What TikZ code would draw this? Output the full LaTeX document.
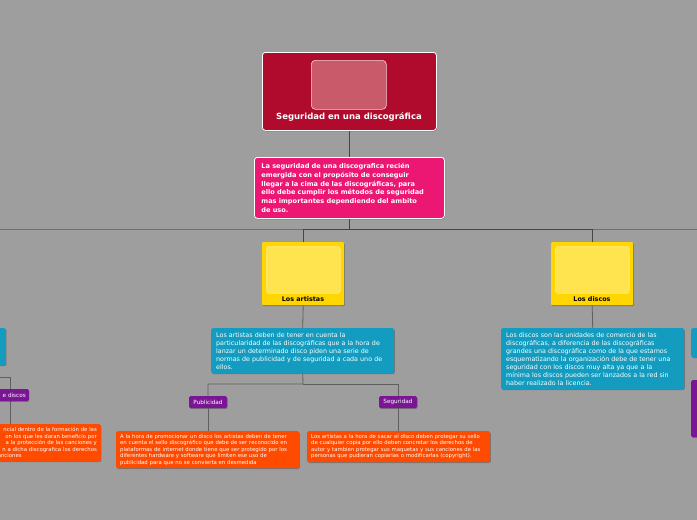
\documentclass[tikz,border=0pt]{standalone}
\usepackage{fontspec}
\setmainfont{DejaVu Sans}
\usetikzlibrary{shadows}
\definecolor{bgc}{RGB}{158,158,158}
\definecolor{rootc}{RGB}{176,11,44}
\definecolor{rootin}{RGB}{200,90,106}
\definecolor{pinkc}{RGB}{236,23,115}
\definecolor{yelc}{RGB}{255,214,0}
\definecolor{yelin}{RGB}{255,227,79}
\definecolor{bluec}{RGB}{19,156,191}
\definecolor{purc}{RGB}{122,21,148}
\definecolor{orac}{RGB}{255,75,0}
\definecolor{linec}{RGB}{70,70,70}
\definecolor{linel}{RGB}{95,95,95}
\tikzset{
  shad/.style={general shadow={fill=black, opacity=0.25, shadow xshift=0.6pt, shadow yshift=-0.9pt}},
  rootbox/.style={shad, fill=rootc, draw=white, line width=0.8pt, rounded corners=3pt, minimum width=174pt, minimum height=78pt, anchor=north west, inner sep=0pt},
  rootimg/.style={fill=rootin, draw=white!75!rootin, line width=0.6pt, rounded corners=4pt, minimum width=75pt, minimum height=49pt, anchor=north west, inner sep=0pt},
  pinkbox/.style={shad, fill=pinkc, draw=white, line width=0.8pt, rounded corners=3pt, anchor=north west, inner xsep=7pt, inner ysep=0pt, text=white, align=left, font=\bfseries\fontsize{6.6}{8.8}\selectfont},
  yelbox/.style={shad, fill=yelc, rounded corners=1pt, minimum width=82pt, minimum height=63pt, anchor=north west, inner sep=0pt},
  yelimg/.style={fill=yelin, draw=white!30!yelin, line width=0.6pt, rounded corners=3pt, minimum width=74pt, minimum height=47pt, anchor=north west, inner sep=0pt},
  yellab/.style={font=\bfseries\fontsize{6.4}{7}\selectfont, text=black, inner sep=0pt},
  bluebox/.style={shad, fill=bluec, rounded corners=1.5pt, anchor=north west, inner xsep=5pt, inner ysep=0pt, text=white, align=left, font=\fontsize{6.35}{8}\selectfont},
  purbox/.style={shad, fill=purc, rounded corners=1.5pt, minimum width=38pt, minimum height=12pt, inner sep=0pt, text=white, font=\fontsize{5.7}{6}\selectfont},
  orabox/.style={shad, fill=orac, rounded corners=1.5pt, anchor=north west, inner xsep=4pt, inner ysep=0pt, text=white, align=left, font=\fontsize{5.35}{6.5}\selectfont},
  mainline/.style={draw=linec, line width=1.2pt},
  subline/.style={draw=linel, line width=0.8pt},
  farline/.style={draw=linel!90!white, line width=0.8pt},
}
\begin{document}
\begin{tikzpicture}[x=1pt,y=-1pt]
\useasboundingbox (0,0) rectangle (697,520);
\fill[bgc] (0,0) rectangle (697,520);
\clip (0,0) rectangle (697,520);

% coordinates of the long horizontal line
\coordinate (hl) at (0,229);
\coordinate (hr) at (697,229);
\draw[farline] (hl) -- (hr);

% root
\node[rootbox] (root) at (262,52) {};
\node[rootimg] (rootpic) at (311,60) {};
\node[font=\bfseries\fontsize{8.5}{9}\selectfont, text=white, inner sep=0pt] (roottitle) at (349,117) {Seguridad en una discográfica};

% pink
\node[pinkbox, minimum width=190pt, minimum height=61pt, text width=176pt] (pink) at (254,157) {La seguridad de una discografica recién\\emergida con el propósito de conseguir\\llegar a la cima de las discográficas, para\\ello debe cumplir los métodos de seguridad\\mas importantes dependiendo del ambito\\de uso.};

\draw[mainline] (root.south) -- (pink.north);
\draw[mainline] (pink.south) -- (pink.south |- hl);

% yellow boxes
\node[yelbox] (artistas) at (262,242) {};
\node[yelimg] (artistaspic) at (266,246) {};
\node[yellab] (artistaslab) at (303,299) {Los artistas};
\node[yelbox] (discos) at (551,242) {};
\node[yelimg] (discospic) at (555,246) {};
\node[yellab] (discoslab) at (592,299) {Los discos};

\draw[mainline, line width=0.9pt] (artistas.north) -- (artistas.north |- hl) -- (discos.north |- hl) -- (discos.north);

% blue boxes
\node[bluebox, minimum width=183pt, minimum height=45pt, text width=173pt] (bart) at (211,328) {Los artistas deben de tener en cuenta la\\particularidad de las discográficas que a la hora de\\lanzar un determinado disco piden una serie de\\normas de publicidad y de seguridad a cada uno de\\ellos.};
\node[bluebox, minimum width=183pt, minimum height=61pt, text width=173pt] (bdis) at (501,328) {Los discos son las unidades de comercio de las\\discográficas, a diferencia de las discográficas\\grandes una discográfica como de la que estamos\\esquematizando la organización debe de tener una\\seguridad con los discos muy alta ya que a la\\mínima los discos pueden ser lanzados a la red sin\\haber realizado la licencia.};

\draw[subline] (artistas.south) -- (bart.north);
\draw[subline] (discos.south) -- (bdis.north);

% purple
\node[purbox] (publ) at (208,402) {Publicidad};
\node[purbox] (segu) at (398,402) {Seguridad};
\coordinate (bsplit) at (303,384);
\draw[subline] (bart.south) -- (bsplit) -- (bsplit -| publ.north) -- (publ.north);
\draw[subline] (bsplit) -- (bsplit -| segu.north) -- (segu.north);

% orange
\node[orabox, minimum width=183pt, minimum height=37pt, text width=175pt] (opub) at (116,431) {A la hora de promocionar un disco los artistas deben de tener\\en cuenta el sello discográfico que debe de ser reconocido en\\plataformas de internet donde tiene que ser protegido por los\\diferentes hardware y software que limiten ese uso de\\publicidad para que no se convierta en desmedida};
\node[orabox, minimum width=183pt, minimum height=31pt, text width=175pt] (oseg) at (307,431) {Los artistas a la hora de sacar el disco deben protegar su sello\\de cualquier copia por ello deben concretar los derechos de\\autor y tambien protegar sus maquetas y sus canciones de las\\personas que pudieran copiarlas o modificarlas (copyright).};
\draw[subline] (publ.south) -- (publ.south |- opub.north);
\draw[subline] (segu.south) -- (segu.south |- oseg.north);

% left partial branch
\node[bluebox, minimum width=46pt, minimum height=37pt, anchor=north east] (lblue) at (6,328) {};
\coordinate (lsplit) at (0,377);
\coordinate (lturn) at (10,377);
\node[orabox, minimum width=131pt, minimum height=37pt, text width=125pt, anchor=north east] (lora) at (101,424) {\hfill ncial dentro de la formación de las\\\hfill on los que les daran beneficio por\\\hfill a la protección de las canciones y\\\hfill n a dicha discografica los derechos\\ \hspace*{26pt}anciones};
\draw[subline] (lsplit) -- (lturn) -- (lturn |- lora.north);
\node[purbox, minimum width=44pt, anchor=east, inner xsep=3pt, align=right, text width=38pt] (lpur) at (29,395) {\hfill e discos};

% right partial branch
\node[bluebox, minimum width=40pt, minimum height=29pt] (rblue) at (691,328) {};
\node[purbox, minimum width=40pt, minimum height=57pt, anchor=north west] (rpur) at (691,380) {};
\end{tikzpicture}
\end{document}
